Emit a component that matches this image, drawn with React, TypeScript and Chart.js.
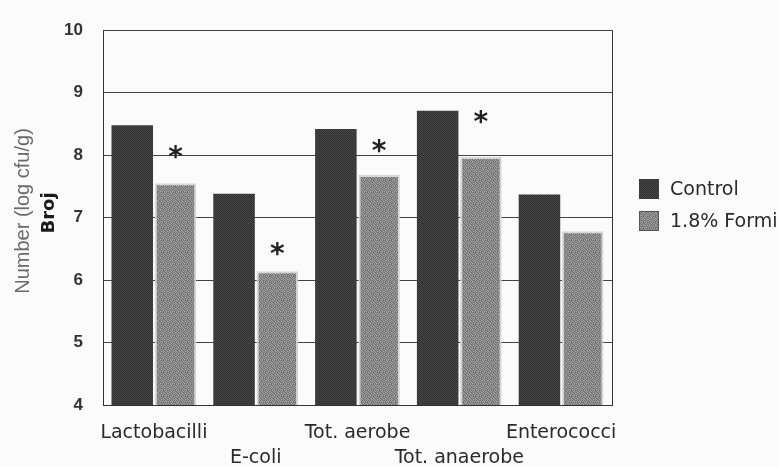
import React, { useEffect, useRef } from "react";
import { Chart, registerables } from "chart.js";

Chart.register(...registerables);

const categories = ["Lactobacilli", "E-coli", "Tot. aerobe", "Tot. anaerobe", "Enterococci"];
const controlValues = [8.48, 7.38, 8.42, 8.71, 7.37];
const formiValues = [7.55, 6.14, 7.68, 7.97, 6.78];
// y value (log cfu/g) where a significance asterisk sits; null = none
const starValues: (number | null)[] = [7.91, 6.35, 8.0, 8.46, null];
const seriesNames = ["Control", "1.8% Formi"];
const yMin = 4;
const yMax = 10;
const yStep = 1;
const yTitle = "Number (log cfu/g)";
const yTitle2 = "Broj";

function makePattern(rows: string[][]): CanvasPattern | string {
  const c = document.createElement("canvas");
  c.width = rows[0].length;
  c.height = rows.length;
  const ctx = c.getContext("2d");
  if (!ctx) return rows[0][0];
  rows.forEach((row, y) =>
    row.forEach((col, x) => {
      ctx.fillStyle = col;
      ctx.fillRect(x, y, 1, 1);
    })
  );
  return ctx.createPattern(c, "repeat") || rows[0][0];
}

export default function App() {
  const ref = useRef<HTMLCanvasElement | null>(null);

  useEffect(() => {
    if (!ref.current) return;
    const darkPat = makePattern([
      ["#303030", "#474747", "#373737", "#414141"],
      ["#444444", "#2b2b2b", "#4a4a4a", "#333333"],
      ["#373737", "#414141", "#2d2d2d", "#474747"],
      ["#4a4a4a", "#333333", "#444444", "#2b2b2b"],
    ]);
    const lightPat = makePattern([
      ["#888888", "#6a6a6a", "#a4a4a4", "#797979", "#969696", "#646464"],
      ["#9c9c9c", "#818181", "#6f6f6f", "#aeaeae", "#7c7c7c", "#909090"],
      ["#6c6c6c", "#acacac", "#8b8b8b", "#666666", "#a0a0a0", "#787878"],
      ["#929292", "#767676", "#a5a5a5", "#848484", "#686868", "#b0b0b0"],
      ["#7a7a7a", "#989898", "#6b6b6b", "#9e9e9e", "#868686", "#727272"],
      ["#a6a6a6", "#6e6e6e", "#949494", "#777777", "#acacac", "#828282"],
    ]);

    const overlay = {
      id: "overlay",
      afterDraw(chart: any) {
        const { ctx, chartArea, scales } = chart;
        ctx.save();
        // frame (right side border)
        ctx.strokeStyle = "#333";
        ctx.lineWidth = 1;
        ctx.beginPath();
        ctx.moveTo(Math.round(chartArea.right) + 0.5, chartArea.top);
        ctx.lineTo(Math.round(chartArea.right) + 0.5, chartArea.bottom);
        ctx.stroke();

        // asterisks
        const meta = chart.getDatasetMeta(1);
        ctx.fillStyle = "#222";
        ctx.font = "bold 28px 'DejaVu Sans'";
        ctx.textAlign = "center";
        ctx.textBaseline = "alphabetic";
        starValues.forEach((v, i) => {
          if (v === null) return;
          const x = meta.data[i].x;
          const y = scales.y.getPixelForValue(v);
          ctx.fillText("*", x, y + 5);
        });

        // axis titles
        ctx.fillStyle = "#6a6a6a";
        ctx.font = "20px 'Liberation Sans'";
        ctx.textBaseline = "middle";
        ctx.save();
        ctx.translate(23, 211);
        ctx.rotate(-Math.PI / 2);
        ctx.fillText(yTitle, 0, 0);
        ctx.restore();
        ctx.fillStyle = "#1a1a1a";
        ctx.font = "bold 18px 'DejaVu Sans'";
        ctx.save();
        ctx.translate(49, 213);
        ctx.rotate(-Math.PI / 2);
        ctx.fillText(yTitle2, 0, 0);
        ctx.restore();

        // legend
        const pats = [darkPat, lightPat];
        const rowsY = [189, 221];
        ctx.font = "19px 'DejaVu Sans'";
        ctx.textAlign = "left";
        ctx.textBaseline = "middle";
        seriesNames.forEach((name, i) => {
          const cy = rowsY[i];
          ctx.fillStyle = pats[i] as any;
          ctx.fillRect(639, cy - 10, 20, 20);
          if (i === 1) {
            ctx.strokeStyle = "#555";
            ctx.lineWidth = 1;
            ctx.strokeRect(639.5, cy - 9.5, 19, 19);
          }
          ctx.fillStyle = "#2a2a2a";
          ctx.fillText(name, 670, cy + 1);
        });
        ctx.restore();
      },
    };

    const chart = new Chart(ref.current, {
      type: "bar",
      data: {
        labels: categories.map((c, i) => (i % 2 === 1 ? ["", c] : [c])),
        datasets: [
          {
            label: seriesNames[0],
            data: controlValues,
            backgroundColor: darkPat as any,
            borderWidth: 0,
            barPercentage: 0.96,
            categoryPercentage: 0.85,
          },
          {
            label: seriesNames[1],
            data: formiValues,
            backgroundColor: lightPat as any,
            borderColor: "#d6d6d6",
            borderWidth: 2,
            barPercentage: 0.96,
            categoryPercentage: 0.85,
          },
        ],
      },
      options: {
        animation: false,
        responsive: true,
        maintainAspectRatio: false,
        layout: { padding: { left: 0, right: 166, top: 15, bottom: 0 } },
        plugins: {
          legend: { display: false },
          tooltip: { enabled: false },
          title: { display: false },
        },
        scales: {
          x: {
            afterFit: (s: any) => {
              s.height = 62;
            },
            grid: { display: false, drawTicks: false },
            border: { display: true, color: "#333", width: 1 },
            ticks: {
              autoSkip: false,
              maxRotation: 0,
              minRotation: 0,
              padding: 16,
              color: "#2a2a2a",
              font: { family: "'DejaVu Sans'", size: 19, lineHeight: 1.3 },
            },
          },
          y: {
            min: yMin,
            max: yMax,
            afterFit: (s: any) => {
              s.width = 103;
            },
            grid: { color: "#444", lineWidth: 1, drawTicks: false },
            border: { display: true, color: "#333", width: 1 },
            ticks: {
              stepSize: yStep,
              padding: 20,
              color: "#333",
              font: { family: "'Liberation Sans'", size: 17, weight: "bold" },
            },
          },
        },
      },
      plugins: [overlay],
    });
    return () => chart.destroy();
  }, []);

  return (
    <div
      style={{
        position: "fixed",
        left: 0,
        top: 0,
        width: 778,
        height: 467,
        background: "#fbfbfb",
      }}
    >
      <canvas ref={ref} />
    </div>
  );
}
